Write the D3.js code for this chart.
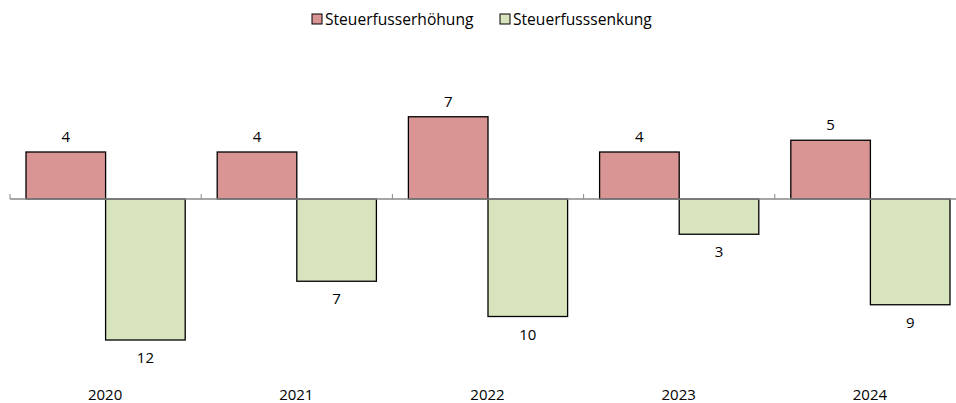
<!DOCTYPE html>
<html>
<head>
<meta charset="utf-8">
<script src="https://cdn.jsdelivr.net/npm/d3@7"></script>
<style>
body { margin: 0; background: #fff; }
text { font-family: "Open Sans", "Noto Sans", sans-serif; font-size: 15px; fill: #000; }
</style>
</head>
<body>
<script>
var years = ["2020", "2021", "2022", "2023", "2024"];
var increase = [4, 4, 7, 4, 5];
var decrease = [12, 7, 10, 3, 9];
var seriesNames = ["Steuerfusserhöhung", "Steuerfusssenkung"];
var colors = ["#d99594", "#d7e4bd"];

var width = 956, height = 403;

var svg = d3.select("body").append("svg")
.attr("width", width)
.attr("height", height);

var xScale = d3.scaleBand().domain(years).range([10, 966]);
var inner = d3.scaleBand().domain([0, 1]).range([16, xScale.bandwidth() - 16]);
var yScale = d3.scaleLinear().domain([-12, 4]).range([340, 152]);

var data = years.map(function(y, i) {
  return {year: y, vals: [increase[i], -decrease[i]]};
});

// bars
var groups = svg.selectAll(".grp").data(data).enter().append("g")
.attr("class", "grp")
.attr("transform", function(d) { return "translate(" + xScale(d.year) + ",0)"; });

groups.selectAll("rect").data(function(d) { return d.vals; }).enter().append("rect")
.attr("x", function(d, i) { return inner(i); })
.attr("width", inner.bandwidth())
.attr("y", function(d) { return yScale(Math.max(0, d)); })
.attr("height", function(d) { return Math.abs(yScale(d) - yScale(0)); })
.attr("fill", function(d, i) { return colors[i]; })
.attr("stroke", "#000")
.attr("stroke-width", 1.3);

groups.selectAll(".val").data(function(d) { return d.vals; }).enter().append("text")
.attr("class", "val")
.attr("x", function(d, i) { return inner(i) + inner.bandwidth() / 2; })
.attr("y", function(d) { return d >= 0 ? yScale(d) - 10 : yScale(d) + 23; })
.attr("text-anchor", "middle")
.text(function(d) { return Math.abs(d); });

// axis line with upward ticks
var axisG = svg.append("g").attr("transform", "translate(0," + yScale(0) + ")");
axisG.append("line")
.attr("x1", 10).attr("x2", 966)
.attr("stroke", "#888").attr("stroke-width", 1.3);
axisG.selectAll(".tick").data(years.concat(["end"])).enter().append("line")
.attr("x1", function(d) { return d === "end" ? 966 : xScale(d); })
.attr("x2", function(d) { return d === "end" ? 966 : xScale(d); })
.attr("y1", 0).attr("y2", -5)
.attr("stroke", "#888").attr("stroke-width", 1);

// year labels
svg.selectAll(".year").data(years).enter().append("text")
.attr("class", "year")
.attr("x", function(d) { return xScale(d) + xScale.bandwidth() / 2 - 0.5; })
.attr("y", 400)
.attr("text-anchor", "middle")
.text(function(d) { return d; });

// legend
var legendX = [312, 500];
var legend = svg.selectAll(".leg").data(seriesNames).enter().append("g")
.attr("class", "leg")
.attr("transform", function(d, i) { return "translate(" + legendX[i] + ",14)"; });
legend.append("rect")
.attr("width", 10).attr("height", 10)
.attr("fill", function(d, i) { return colors[i]; })
.attr("stroke", "#000").attr("stroke-width", 1);
legend.append("text")
.attr("x", 13).attr("y", 11)
.style("font-size", "15.6px")
.text(function(d) { return d; });
</script>
</body>
</html>
